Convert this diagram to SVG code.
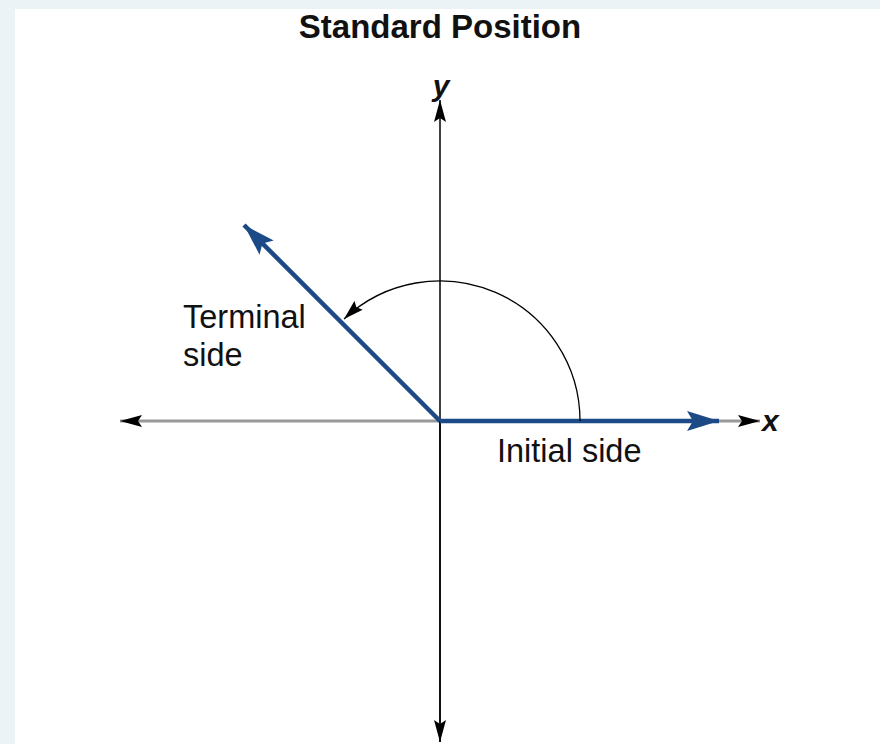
<svg xmlns="http://www.w3.org/2000/svg" width="880" height="744" viewBox="0 0 880 744">
<style>
text{font-family:"Liberation Sans",Arial,sans-serif;fill:#111}
.lbl{font-size:32.5px}
.ax{stroke:#000;stroke-width:1.5;fill:none}
.blue{stroke:#1c4a87;stroke-width:4.5;fill:none}
</style>
<defs>
<marker id="ah" markerWidth="22" markerHeight="12" refX="22" refY="6" orient="auto" markerUnits="userSpaceOnUse"><path d="M0,0 L22,6 L0,12 L4,6 Z" fill="#000"/></marker>
<marker id="bh" markerWidth="32" markerHeight="20" refX="32" refY="10" orient="auto" markerUnits="userSpaceOnUse"><path d="M0,0 L32,10 L0,20 L6,10 Z" fill="#1c4a87"/></marker>
<marker id="sh" markerWidth="20" markerHeight="12" refX="20" refY="6" orient="auto" markerUnits="userSpaceOnUse"><path d="M0,0 L20,6 L0,12 L3,6 Z" fill="#000"/></marker>
</defs>
<rect width="880" height="744" fill="#ebf3f7"/>
<rect x="15" y="9" width="865" height="735" fill="#fff"/>
<text x="440" y="38" text-anchor="middle" font-size="33" font-weight="bold">Standard Position</text>
<g id="connectors">
<line x1="440" y1="421" x2="120" y2="421" stroke="#999" stroke-width="3" marker-end="url(#ah)"/>
<line x1="700" y1="421" x2="760" y2="421" stroke="#999" stroke-width="3" marker-end="url(#ah)"/>
<line x1="440" y1="742" x2="440" y2="100" class="ax" marker-end="url(#ah)"/>
<line x1="440" y1="421" x2="440" y2="742" class="ax" marker-end="url(#ah)"/>
<line x1="440" y1="421" x2="719" y2="421" class="blue" marker-end="url(#bh)"/>
<line x1="440" y1="421" x2="244" y2="225" class="blue" marker-end="url(#bh)"/>
<path d="M580,421 A140,140 0 0 0 344,319" stroke="#000" stroke-width="1.3" fill="none" marker-end="url(#sh)"/>
</g>
<g id="y-label"><text x="441" y="96" text-anchor="middle" font-size="30" font-style="italic" font-weight="bold">y</text></g>
<g id="x-label"><text x="762" y="431" font-size="30" font-style="italic" font-weight="bold">x</text></g>
<g id="terminal"><text class="lbl" x="183" y="328">Terminal</text><text class="lbl" x="183" y="366">side</text></g>
<g id="initial"><text class="lbl" x="497" y="462">Initial side</text></g>
</svg>
